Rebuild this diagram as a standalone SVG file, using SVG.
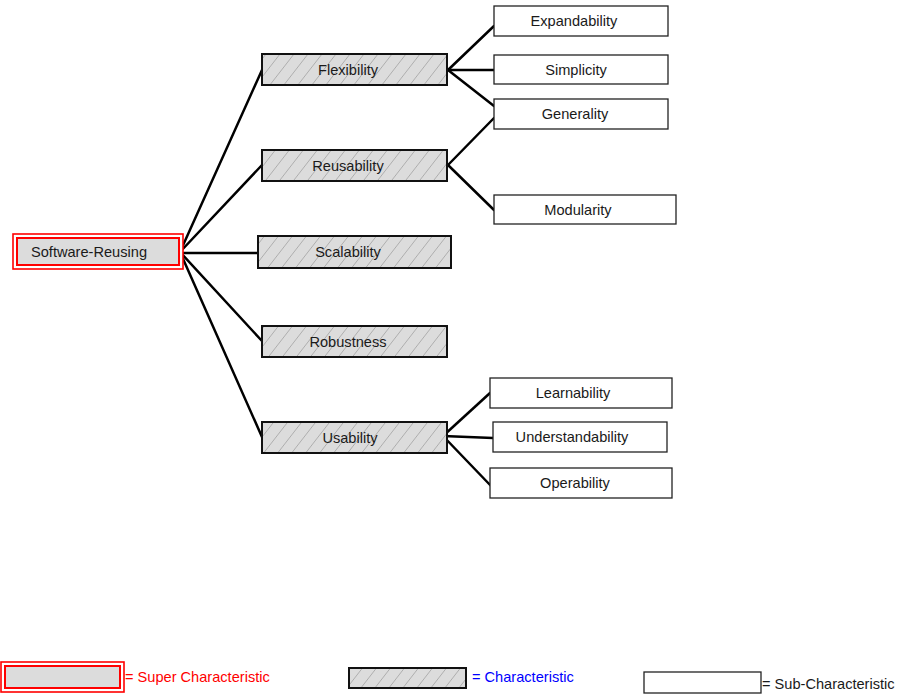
<svg xmlns="http://www.w3.org/2000/svg" width="898" height="695" viewBox="0 0 898 695">
<defs>
<pattern id="hatch" patternUnits="userSpaceOnUse" width="14" height="18">
<rect width="14" height="18" fill="#dcdcdc"/>
<path d="M0,18 L14,0 M-3.5,4.5 L3.5,-4.5 M10.5,22.5 L17.5,13.5" stroke="#999" stroke-width="0.7"/>
</pattern>
<style>
text{font-family:"Liberation Sans",Arial,sans-serif;font-size:14.6px;fill:#1a1a1a;text-anchor:middle;dominant-baseline:central}
.sup-o{fill:#fff;stroke:#ff0000;stroke-width:1.6}
.sup-i{fill:#dcdcdc;stroke:#ff0000;stroke-width:2}
.chr{fill:url(#hatch);stroke:#111;stroke-width:2}
.sub{fill:#fff;stroke:#222;stroke-width:1.3}
.conn line{stroke:#000;stroke-width:2.5;stroke-linecap:round}
.lg{text-anchor:start}
</style>
</defs>
<rect width="898" height="695" fill="#fff"/>
<g class="conn" id="connectors">
<line x1="180" y1="252" x2="262" y2="70"/>
<line x1="180" y1="252" x2="262" y2="165"/>
<line x1="180" y1="253" x2="258" y2="253"/>
<line x1="180" y1="252" x2="262" y2="341"/>
<line x1="180" y1="252" x2="262" y2="437"/>
<line x1="448" y1="70" x2="494" y2="26"/>
<line x1="448" y1="70" x2="494" y2="70"/>
<line x1="448" y1="70" x2="494" y2="106"/>
<line x1="448" y1="165" x2="494" y2="118"/>
<line x1="448" y1="165" x2="494" y2="210"/>
<line x1="443" y1="436" x2="490" y2="393"/>
<line x1="443" y1="436" x2="493" y2="438"/>
<line x1="443" y1="436" x2="492" y2="487"/>
</g>
<g id="software-reusing">
<rect class="sup-o" x="13" y="234" width="170" height="35"/>
<rect class="sup-i" x="17" y="238" width="162" height="27"/>
<text x="89" y="252">Software-Reusing</text>
</g>
<g id="flexibility"><rect class="chr" x="262" y="54" width="185" height="31"/><text x="348" y="70">Flexibility</text></g>
<g id="reusability"><rect class="chr" x="262" y="150" width="185" height="31"/><text x="348" y="166">Reusability</text></g>
<g id="scalability"><rect class="chr" x="258" y="236" width="193" height="32"/><text x="348" y="252">Scalability</text></g>
<g id="robustness"><rect class="chr" x="262" y="326" width="185" height="31"/><text x="348" y="342">Robustness</text></g>
<g id="usability"><rect class="chr" x="262" y="422" width="185" height="31"/><text x="350" y="438">Usability</text></g>
<g id="expandability"><rect class="sub" x="494" y="6" width="174" height="30"/><text x="574" y="21">Expandability</text></g>
<g id="simplicity"><rect class="sub" x="494" y="55" width="174" height="29"/><text x="576" y="70">Simplicity</text></g>
<g id="generality"><rect class="sub" x="494" y="99" width="174" height="30"/><text x="575" y="114">Generality</text></g>
<g id="modularity"><rect class="sub" x="494" y="195" width="182" height="29"/><text x="578" y="210">Modularity</text></g>
<g id="learnability"><rect class="sub" x="490" y="378" width="182" height="30"/><text x="573" y="393">Learnability</text></g>
<g id="understandability"><rect class="sub" x="493" y="422" width="174" height="30"/><text x="572" y="437">Understandability</text></g>
<g id="operability"><rect class="sub" x="490" y="468" width="182" height="30"/><text x="575" y="483">Operability</text></g>
<g id="legend">
<rect class="sup-o" x="1" y="662" width="123" height="30"/>
<rect class="sup-i" x="5" y="666" width="115" height="22"/>
<text class="lg" x="125" y="677" style="fill:#ff0000">= Super Characteristic</text>
<rect class="chr" x="349" y="668" width="117" height="20"/>
<text class="lg" x="472" y="677" style="fill:#0000ff">= Characteristic</text>
<rect class="sub" x="644" y="672" width="117" height="21"/>
<text class="lg" x="762" y="684">= Sub-Characteristic</text>
</g>
</svg>
